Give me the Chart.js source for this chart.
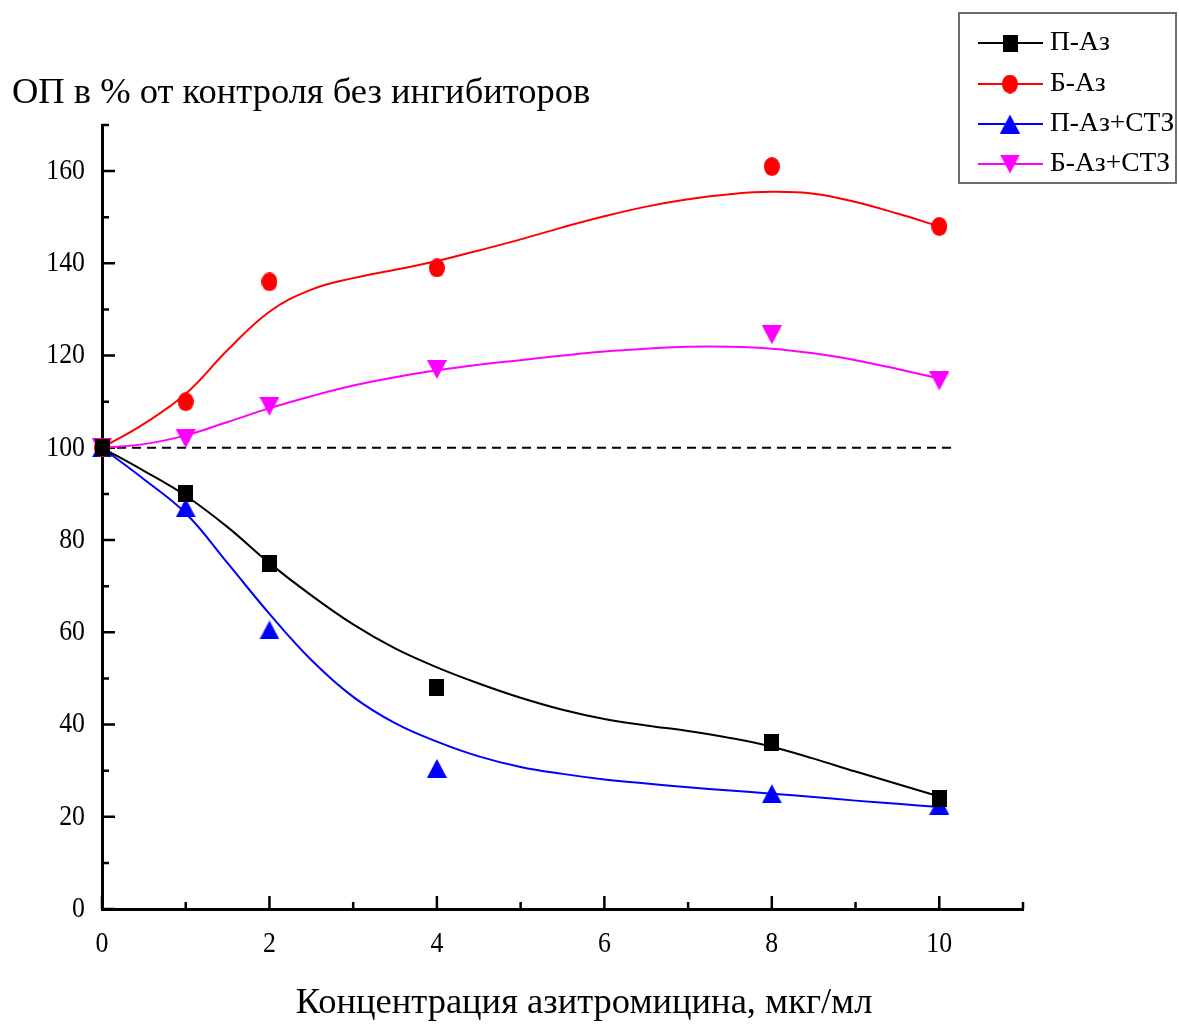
<!DOCTYPE html>
<html lang="ru">
<head>
<meta charset="utf-8">
<title>ОП в % от контроля без ингибиторов</title>
<script src="https://cdn.jsdelivr.net/npm/chart.js@4.4.1/dist/chart.umd.min.js"></script>
<style>
  html, body { margin: 0; padding: 0; background: #fff; }
  canvas { display: block; }
</style>
</head>
<body>
<canvas id="chart" width="1179" height="1026"></canvas>
<script>
// ---------- DATA ----------
const concentrations = [0, 1, 2, 4, 8, 10];
const pAz    = [100, 90, 75, 48, 36, 24];
const bAz    = [100, 110, 136, 139, 161, 148];
const pAzStz = [100, 87, 60.5, 30.5, 25, 22.5];
const bAzStz = [100, 102, 109, 117, 124.5, 114.5];

// smoothed fit curves, sampled every 0.5 along the concentration axis
const fitX      = [0, 0.5, 1, 1.5, 2, 2.5, 3, 3.5, 4, 4.5, 5, 5.5, 6, 6.5, 7, 7.5, 8, 8.5, 9, 9.5, 10];
const fitPAz    = [100, 95, 89.6, 82.8, 75, 68, 61.7, 56.5, 52.4, 48.9, 45.8, 43.2, 41.2, 39.8, 38.6, 37.1, 35.2, 32.6, 29.8, 27.1, 24.4];
const fitBAz    = [100, 105.2, 111.7, 121.2, 129.5, 134.3, 136.8, 138.6, 140.5, 142.8, 145.2, 147.8, 150.2, 152.3, 153.9, 155, 155.5, 155.1, 153.3, 150.8, 148];
const fitPAzStz = [100, 93.2, 85.8, 75, 64, 54, 46, 40.3, 36.3, 33.1, 30.8, 29.3, 28.1, 27.2, 26.4, 25.7, 25, 24.3, 23.5, 22.8, 22.1];
const fitBAzStz = [100, 100.8, 102.7, 105.6, 108.6, 111.2, 113.5, 115.3, 116.8, 118, 119, 120, 120.9, 121.5, 121.9, 121.9, 121.5, 120.5, 119, 117.1, 115];

// control level (dashed)
const controlX = [0, 10.15];
const controlY = [100, 100];

const seriesNames = ['П-Аз', 'Б-Аз', 'П-Аз+СТЗ', 'Б-Аз+СТЗ'];
const xMajorTicks = [0, 2, 4, 6, 8, 10];
const xMinorTicks = [1, 3, 5, 7, 9, 11];
const yMajorTicks = [0, 20, 40, 60, 80, 100, 120, 140, 160];
const yMinorTicks = [10, 30, 50, 70, 90, 110, 130, 150, 170];

const yTitle = 'ОП в % от контроля без ингибиторов';
const xTitle = 'Концентрация азитромицина, мкг/мл';

// ---------- STYLE ----------
const FONT = '"Liberation Serif", "Times New Roman", serif';

function makeMarker(shape, color, w, h) {
  const c = document.createElement('canvas');
  c.width = w; c.height = h;
  const g = c.getContext('2d');
  g.fillStyle = color;
  g.beginPath();
  if (shape === 'square') g.rect(0, 0, w, h);
  else if (shape === 'circle') g.ellipse(w / 2, h / 2, w / 2, h / 2, 0, 0, Math.PI * 2);
  else if (shape === 'up') { g.moveTo(w / 2, 0); g.lineTo(w, h); g.lineTo(0, h); }
  else { g.moveTo(0, 0); g.lineTo(w, 0); g.lineTo(w / 2, h); }
  g.closePath();
  g.fill();
  return c;
}

const series = [
  { name: seriesNames[0], color: '#000000', marker: makeMarker('square', '#000000', 15, 17), pts: pAz, fit: fitPAz },
  { name: seriesNames[1], color: '#ff0000', marker: makeMarker('circle', '#ff0000', 16, 19), pts: bAz, fit: fitBAz },
  { name: seriesNames[2], color: '#0000ff', marker: makeMarker('up', '#0000ff', 20, 19), pts: pAzStz, fit: fitPAzStz },
  { name: seriesNames[3], color: '#ff00ff', marker: makeMarker('down', '#ff00ff', 20, 19), pts: bAzStz, fit: fitBAzStz }
];

const toXY = (xs, ys) => xs.map((x, i) => ({ x: x, y: ys[i] }));

// markers first (drawn on top), then fit curves, then the dashed control line
const datasets = [];
series.forEach(s => datasets.push({
  type: 'scatter', label: s.name, data: toXY(concentrations, s.pts),
  pointStyle: s.marker, pointRadius: 9, showLine: false, clip: false
}));
series.forEach(s => datasets.push({
  type: 'line', label: s.name + ' fit', data: toXY(fitX, s.fit),
  borderColor: s.color, borderWidth: 2, pointRadius: 0,
  tension: 0.4, fill: false, clip: false
}));
datasets.push({
  type: 'line', label: 'control', data: toXY(controlX, controlY),
  borderColor: '#000', borderWidth: 2, borderDash: [9, 6], pointRadius: 0, fill: false
});

function drawText(ctx, str, x, y, size, align, squash) {
  ctx.save();
  ctx.font = size + 'px ' + FONT;
  ctx.fillStyle = '#000';
  ctx.textAlign = align;
  ctx.textBaseline = 'middle';
  ctx.translate(x, y);
  ctx.scale(squash || 1, 1);
  ctx.fillText(str, 0, 0);
  ctx.restore();
}

// inward ticks, major and minor
const ticksPlugin = {
  id: 'inwardTicks',
  beforeDatasetsDraw(chart) {
    const { ctx, scales: { x, y }, chartArea: a } = chart;
    ctx.save();
    ctx.strokeStyle = '#000';
    ctx.lineWidth = 2.5;
    ctx.beginPath();
    xMajorTicks.forEach(v => { const px = x.getPixelForValue(v); ctx.moveTo(px, a.bottom); ctx.lineTo(px, a.bottom - 13); });
    xMinorTicks.forEach(v => { const px = x.getPixelForValue(v); ctx.moveTo(px, a.bottom); ctx.lineTo(px, a.bottom - 7); });
    yMajorTicks.forEach(v => { const py = y.getPixelForValue(v); ctx.moveTo(a.left, py); ctx.lineTo(a.left + 13, py); });
    yMinorTicks.forEach(v => { const py = y.getPixelForValue(v); ctx.moveTo(a.left, py); ctx.lineTo(a.left + 7, py); });
    ctx.stroke();
    ctx.restore();
  }
};

// tick labels, axis titles and the boxed legend
const labelsPlugin = {
  id: 'labelsAndLegend',
  afterDraw(chart) {
    const { ctx, scales: { x, y }, chartArea: a } = chart;
    yMajorTicks.forEach(v => drawText(ctx, String(v), a.left - 17, y.getPixelForValue(v), 30, 'right', 0.86));
    xMajorTicks.forEach(v => drawText(ctx, String(v), x.getPixelForValue(v), a.bottom + 35, 30, 'center', 0.86));
    drawText(ctx, yTitle, 12, 93, 36.5, 'left');
    drawText(ctx, xTitle, 584, 1003, 36.5, 'center');

    // legend
    ctx.save();
    ctx.strokeStyle = '#6e6e6e';
    ctx.lineWidth = 2;
    ctx.strokeRect(959, 13, 217, 170);
    const rowY = [43, 84, 124, 164];
    series.forEach((s, i) => {
      ctx.strokeStyle = s.color;
      ctx.lineWidth = 2;
      ctx.beginPath();
      ctx.moveTo(978, rowY[i]);
      ctx.lineTo(1043, rowY[i]);
      ctx.stroke();
      ctx.drawImage(s.marker, 1010 - s.marker.width / 2, rowY[i] - s.marker.height / 2);
      drawText(ctx, s.name, 1050, rowY[i], 27.5, 'left');
    });
    ctx.restore();
  }
};

new Chart(document.getElementById('chart'), {
  data: { datasets: datasets },
  options: {
    responsive: false,
    animation: false,
    devicePixelRatio: 1,
    layout: { padding: { top: 125, right: 156, left: 0, bottom: 0 } },
    plugins: { legend: { display: false }, tooltip: { enabled: false } },
    scales: {
      x: {
        type: 'linear', min: 0, max: 11,
        ticks: { display: false },
        grid: { display: false },
        border: { color: '#000', width: 3 },
        afterFit: s => { s.height = 117; }
      },
      y: {
        type: 'linear', min: 0, max: 170,
        ticks: { display: false },
        grid: { display: false },
        border: { color: '#000', width: 3 },
        afterFit: s => { s.width = 102; }
      }
    }
  },
  plugins: [ticksPlugin, labelsPlugin]
});
</script>
</body>
</html>
